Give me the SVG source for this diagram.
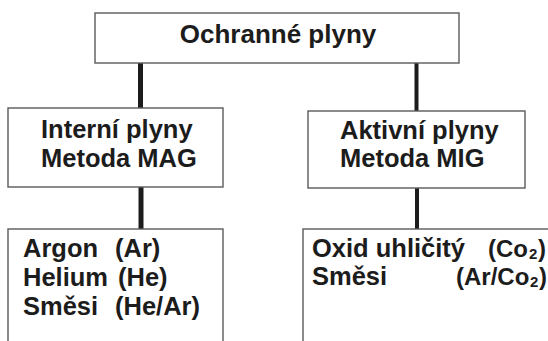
<svg xmlns="http://www.w3.org/2000/svg" width="548" height="341" viewBox="0 0 548 341">
  <style>
    .box { fill: #ffffff; stroke: #5a5a5a; stroke-width: 1.4; }
    .lbl { font-family: "Liberation Sans", Arial, sans-serif; font-weight: bold; font-size: 25.5px; fill: #1c1c1c; }
    .title { font-size: 26px; text-anchor: middle; }
    .frm { font-size: 24px; }
    .sub { font-size: 15px; }
    .link { stroke: #1c1c1c; stroke-width: 5; fill: none; }
  </style>
  <rect width="548" height="341" fill="#ffffff"/>

  <!-- connectors -->
  <g id="connectors">
    <line class="link" x1="140.5" y1="63" x2="140.5" y2="108"/>
    <line class="link" x1="416.5" y1="63" x2="416.5" y2="111" style="stroke-width:4"/>
    <line class="link" x1="141" y1="187" x2="141" y2="229"/>
    <line class="link" x1="417" y1="188" x2="417" y2="229" style="stroke-width:4"/>
  </g>

  <!-- root -->
  <g id="ochranne-plyny">
    <rect class="box" x="95" y="13" width="364" height="50"/>
    <text class="lbl title" x="278" y="43">Ochranné plyny</text>
  </g>

  <!-- inert gases -->
  <g id="interni-plyny">
    <rect class="box" x="8" y="108" width="215" height="79"/>
    <text class="lbl" x="41" y="138">Interní plyny</text>
    <text class="lbl" x="41" y="167">Metoda MAG</text>
  </g>

  <!-- active gases -->
  <g id="aktivni-plyny">
    <rect class="box" x="308" y="111" width="217" height="77"/>
    <text class="lbl" x="340" y="139">Aktivní plyny</text>
    <text class="lbl" x="340" y="167">Metoda MIG</text>
  </g>

  <!-- inert gas list (open at the bottom edge) -->
  <g id="interni-seznam">
    <rect class="box" x="8" y="229" width="215" height="140"/>
    <text class="lbl" x="23" y="257">Argon</text>
    <text class="lbl" x="115" y="257">(Ar)</text>
    <text class="lbl" x="23" y="286">Helium</text>
    <text class="lbl" x="118" y="286">(He)</text>
    <text class="lbl" x="23" y="315">Směsi</text>
    <text class="lbl" x="115" y="315">(He/Ar)</text>
  </g>

  <!-- active gas list (runs past the right and bottom edges); formula pieces set side by side -->
  <g id="aktivni-seznam">
    <rect class="box" x="303" y="229" width="280" height="140"/>
    <text class="lbl" x="312" y="257">Oxid uhličitý</text>
    <text class="lbl frm" x="488" y="257">(Co</text>
    <text class="lbl sub" x="529" y="259">2</text>
    <text class="lbl frm" x="538" y="257">)</text>
    <text class="lbl" x="312" y="285">Směsi</text>
    <text class="lbl frm" x="456" y="285">(Ar/Co</text>
    <text class="lbl sub" x="530" y="287">2</text>
    <text class="lbl frm" x="539" y="285">)</text>
  </g>
</svg>
